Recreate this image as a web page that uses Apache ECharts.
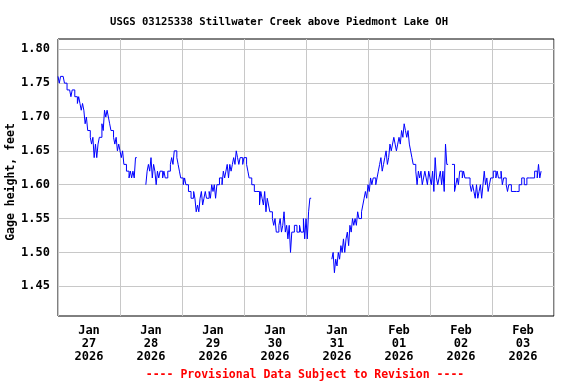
<!DOCTYPE html>
<html>
<head>
<meta charset="utf-8">
<script src="https://cdn.jsdelivr.net/npm/echarts@6/dist/echarts.min.js"></script>
<style>
html,body{margin:0;padding:0;background:#fff;}
#c{width:576px;height:384px;}
</style>
</head>
<body>
<div id="c"></div>
<script>
// Half-hourly readings from Jan 27 2026 00:00 (index / 2 = hours); gage height in feet
var gageHeight = [
  // Jan 27
  1.76,1.75, 1.76,1.76, 1.76,1.75, 1.75,1.74, 1.74,1.74, 1.73,1.74, 1.74,1.73, 1.73,1.72,
  1.73,1.72, 1.71,1.72, 1.71,1.69, 1.70,1.68, 1.68,1.67, 1.66,1.67, 1.64,1.66, 1.64,1.66,
  1.67,1.67, 1.69,1.68, 1.71,1.70, 1.71,1.70, 1.69,1.68, 1.68,1.67, 1.66,1.67, 1.65,1.66,
  // Jan 28
  1.65,1.64, 1.65,1.63, 1.63,1.62, 1.62,1.61, 1.62,1.61, 1.62,1.61, 1.64,null, null,null,
  null,null, null,null, 1.60,1.62, 1.63,1.62, 1.64,1.61, 1.63,1.62, 1.60,1.62, 1.61,1.62,
  1.62,1.61, 1.62,1.61, 1.61,1.62, 1.62,1.63, 1.64,1.63, 1.65,1.65, 1.64,1.63, 1.62,1.61,
  // Jan 29
  1.61,1.60, 1.61,1.60, 1.60,1.59, 1.59,1.58, 1.58,1.59, 1.58,1.56, 1.57,1.56, 1.58,1.59,
  1.57,1.58, 1.59,1.58, 1.58,1.59, 1.58,1.60, 1.59,1.60, 1.58,1.60, 1.60,1.61, 1.61,1.60,
  1.62,1.61, 1.62,1.63, 1.61,1.63, 1.62,1.63, 1.64,1.63, 1.65,1.64, 1.63,1.64, 1.64,1.63,
  // Jan 30
  1.64,1.64, 1.63,1.62, 1.61,1.61, 1.60,1.60, 1.59,1.59, 1.59,1.59, 1.57,1.59, 1.58,1.57,
  1.59,1.56, 1.58,1.57, 1.56,1.56, 1.55,1.54, 1.55,1.53, 1.53,1.54, 1.55,1.53, 1.54,1.56,
  1.53,1.54, 1.52,1.54, 1.50,1.53, 1.53,1.54, 1.54,1.53, 1.53,1.54, 1.53,1.53, 1.55,1.52,
  // Jan 31
  1.55,1.52, 1.56,1.58, null,null, null,null, null,null, null,null, null,null, null,null,
  null,null, null,null, 1.49,1.50, 1.47,1.49, 1.48,1.50, 1.49,1.51, 1.50,1.52, 1.50,1.52,
  1.53,1.51, 1.54,1.53, 1.55,1.54, 1.55,1.54, 1.56,1.55, 1.55,1.56, 1.57,1.58, 1.59,1.58,
  // Feb 01
  1.60,1.59, 1.61,1.60, 1.61,1.61, 1.60,1.61, 1.62,1.63, 1.64,1.62, 1.63,1.64, 1.65,1.63,
  1.64,1.66, 1.65,1.66, 1.67,1.66, 1.65,1.66, 1.67,1.66, 1.68,1.67, 1.69,1.68, 1.67,1.68,
  1.66,1.65, 1.64,1.63, 1.63,1.62, 1.60,1.62, 1.61,1.62, 1.60,1.61, 1.62,1.61, 1.60,1.62,
  // Feb 02
  1.61,1.60, 1.62,1.59, 1.64,1.61, 1.60,1.61, 1.62,1.60, 1.62,1.59, 1.66,1.63, null,null,
  null,1.63, 1.63,1.59, 1.60,1.61, 1.60,1.62, 1.62,1.61, 1.62,1.61, 1.61,1.61, 1.61,1.60,
  1.59,1.60, 1.59,1.58, 1.60,1.58, 1.59,1.60, 1.58,1.60, 1.62,1.60, 1.61,1.59, 1.60,1.61,
  // Feb 03
  1.61,1.62, 1.62,1.61, 1.62,1.61, 1.61,1.62, 1.60,1.61, 1.61,1.60, 1.59,1.60, 1.60,1.59,
  1.59,1.59, 1.59,1.59, 1.59,1.60, 1.60,1.61, 1.61,1.60, 1.60,1.61, 1.61,1.61, 1.61,1.61,
  1.61,1.62, 1.62,1.61, 1.63,1.61, 1.62
];
var dayLabels = ['Jan\n27\n2026','Jan\n28\n2026','Jan\n29\n2026','Jan\n30\n2026','Jan\n31\n2026','Feb\n01\n2026','Feb\n02\n2026','Feb\n03\n2026'];
var yTicks = [1.45,1.50,1.55,1.60,1.65,1.70,1.75,1.80];
var dayBounds = [0,24,48,72,96,120,144,168,192];
var dayCenters = [12,36,60,84,108,132,156,180];
var titleText = 'USGS 03125338 Stillwater Creek above Piedmont Lake OH';
var yName = 'Gage height, feet';
var footer = '---- Provisional Data Subject to Revision ----';

var FONT = 'DejaVu Sans Mono';
var data = gageHeight.map(function(v,i){ return [i/2, v]; });

var chart = echarts.init(document.getElementById('c'), null, {renderer:'canvas'});
chart.setOption({
  animation:false,
  backgroundColor:'#ffffff',
  title:{
    text:titleText, left:105, top:12,
    textStyle:{fontFamily:FONT, fontWeight:'bold', fontSize:10.6, color:'#000'}
  },
  grid:{left:58, top:39, width:496, height:277, show:true, borderColor:'#000', borderWidth:1, backgroundColor:'transparent'},
  xAxis:{
    type:'value', min:0, max:192,
    axisLine:{show:false},
    axisTick:{show:false, customValues:dayBounds},
    splitLine:{show:true, lineStyle:{color:'#c8c8c8', width:1}},
    axisLabel:{
      customValues:dayCenters, margin:8,
      fontFamily:FONT, fontWeight:'bold', fontSize:12, color:'#000', lineHeight:13,
      formatter:function(v){ return dayLabels[Math.round((v-12)/24)]; }
    }
  },
  yAxis:{
    type:'value', min:1.4061, max:1.8152,
    axisLine:{show:false},
    axisTick:{show:false, customValues:yTicks},
    splitLine:{show:true, lineStyle:{color:'#c8c8c8', width:1}},
    axisLabel:{
      customValues:yTicks, margin:8,
      fontFamily:FONT, fontWeight:'bold', fontSize:12, color:'#000',
      formatter:function(v){ return v.toFixed(2); }
    }
  },
  graphic:[
    {type:'text', x:11, y:182, rotation:Math.PI/2,
     style:{text:yName, fontFamily:FONT, fontWeight:'bold', fontSize:11.5, fill:'#000', align:'center', verticalAlign:'middle'}},
    {type:'text', x:305, y:375,
     style:{text:footer, fontFamily:FONT, fontWeight:'bold', fontSize:11.5, fill:'#ff0000', align:'center', verticalAlign:'middle'}}
  ],
  series:[{
    type:'line', data:data, step:'end', showSymbol:false, connectNulls:false,
    lineStyle:{color:'#0000ff', width:1}, z:3
  }]
});
</script>
</body>
</html>
